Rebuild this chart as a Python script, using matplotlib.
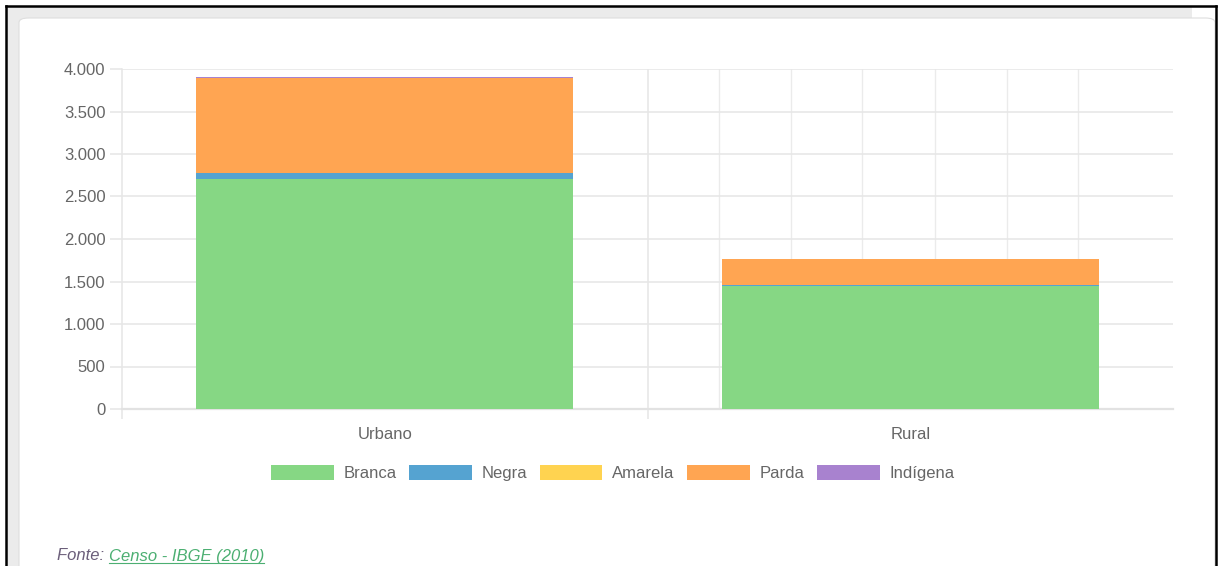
import numpy as np
import matplotlib
matplotlib.use("Agg")
from matplotlib import pyplot as plt
from matplotlib.patches import Patch, Rectangle, FancyBboxPatch
from matplotlib.lines import Line2D
from matplotlib.ticker import FuncFormatter

# data
categories = ["Urbano", "Rural"]
series_names = ["Branca", "Negra", "Amarela", "Parda", "Indígena"]
branca = [2705, 1445]
negra = [68, 8]
amarela = [5, 2]
parda = [1122, 310]
indigena = [10, 3]
series = [branca, negra, amarela, parda, indigena]
colors = ["#86d784", "#55a3d1", "#ffd350", "#ffa552", "#a882cf"]

plt.rcParams["font.family"] = ["Liberation Sans", "DejaVu Sans"]
W, H = 1219, 566
fs = 12
fig = plt.figure(figsize=(W / 100, H / 100), dpi=100)
fig.patch.set_facecolor("white")

# card background, shadow and outer black frame
fig.patches.append(Rectangle((7 / W, 0), (1192 - 7) / W, (H - 7) / H,
                             transform=fig.transFigure, facecolor="#ebebeb",
                             edgecolor="none", zorder=-3))
fig.patches.append(FancyBboxPatch((19 / W, -0.02), (1215 - 19) / W, (H - 18) / H + 0.02,
                                  boxstyle="round,pad=0,rounding_size=0.008",
                                  transform=fig.transFigure, facecolor="white",
                                  edgecolor="#dedede", linewidth=0.8, zorder=-2))
for xs, ys in [([6, 6], [6, H]), ([6, 1216], [6, 6]), ([1216, 1216], [6, H])]:
    fig.add_artist(Line2D([v / W for v in xs], [1 - v / H for v in ys],
                          color="black", linewidth=1.8, zorder=5))

ax = fig.add_axes([122 / W, 1 - 409 / H, (1173 - 122) / W, (409 - 69) / H])
ax.set_facecolor("none")
x = np.arange(len(categories))
bottom = np.zeros(len(categories))
for name, vals, c in zip(series_names, series, colors):
    ax.bar(x, vals, bottom=bottom, width=0.717, color=c, label=name, zorder=3)
    bottom += np.array(vals)

ax.set_xlim(-0.5, 1.5)
ax.set_ylim(0, 4000)
ax.set_yticks(np.arange(0, 4001, 500))
ax.yaxis.set_major_formatter(FuncFormatter(lambda v, p: f"{int(v):,}".replace(",", ".")))
ax.grid(axis="y", color="#e6e6e6", linewidth=1.1, zorder=0)
ax.tick_params(axis="y", length=9, width=1.1, color="#e6e6e6", pad=3,
               labelsize=fs, labelcolor="#666666")

ax.set_xticks(x)
ax.set_xticklabels(categories)
ax.tick_params(axis="x", length=0, pad=13, labelsize=fs, labelcolor="#666666")
ax.set_xticks([-0.5, 0.5], minor=True)
ax.tick_params(axis="x", which="minor", length=7, width=1.1, color="#e6e6e6")

for s in ["top", "right"]:
    ax.spines[s].set_visible(False)
ax.spines["left"].set_color("#e6e6e6")
ax.spines["left"].set_linewidth(1.1)
ax.spines["bottom"].set_color("#e2e2e2")
ax.spines["bottom"].set_linewidth(1.6)

# category divider and the stray vertical grid on the right half
ax.axvline(0.5, color="#e6e6e6", linewidth=1.1, zorder=0)
for gx in [0.637, 0.774, 0.909, 1.048, 1.185, 1.32]:
    ax.axvline(gx, color="#ebebeb", linewidth=1.0, zorder=0)

handles = [Patch(facecolor=c, edgecolor="none", label=n) for n, c in zip(series_names, colors)]
leg = fig.legend(handles=handles, ncol=5, loc="center", bbox_to_anchor=(613 / W, 1 - 473 / H),
                 frameon=False, fontsize=fs, handlelength=3.75, handleheight=1.05,
                 handletextpad=0.6, columnspacing=0.75)
for t in leg.get_texts():
    t.set_color("#666666")

# footer source note
t1 = fig.text(57 / W, 1 - 556 / H, "Fonte: ", fontsize=fs, style="italic",
              color="#6b5e7a", va="center", ha="left")
fig.canvas.draw()
bb = t1.get_window_extent()
t2 = fig.text(bb.x1 / W, 1 - 556 / H, "Censo - IBGE (2010)", fontsize=fs,
              style="italic", color="#4caf72", va="center", ha="left")
fig.canvas.draw()
bb2 = t2.get_window_extent()
fig.add_artist(Line2D([bb2.x0 / W, bb2.x1 / W], [(bb2.y0 + 1) / H] * 2,
                      color="#4caf72", linewidth=0.8))

fig.savefig("out.png", dpi=100)
